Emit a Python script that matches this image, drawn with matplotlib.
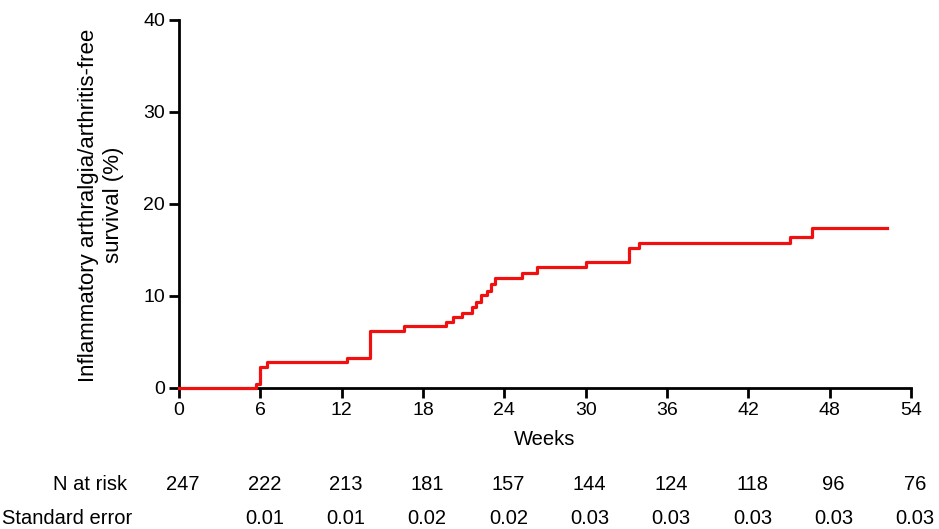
import matplotlib
matplotlib.use("Agg")
import matplotlib.pyplot as plt

plt.rcParams['font.family'] = ['Liberation Sans', 'DejaVu Sans']

# Kaplan-Meier style step curve (cumulative %), event times in weeks
weeks = [0, 5.7, 6.0, 6.5, 12.4, 14.1, 16.6, 19.7, 20.2, 20.9, 21.6, 21.9,
         22.3, 22.7, 23.0, 23.3, 25.3, 26.4, 30.0, 33.2, 33.9, 45.1, 46.7, 52.2]
pct = [0, 0.4, 2.3, 2.8, 3.3, 6.2, 6.7, 7.2, 7.7, 8.2, 8.8, 9.4,
       10.1, 10.5, 11.3, 12.0, 12.5, 13.2, 13.7, 15.2, 15.8, 16.4, 17.4, 17.4]

x_ticks = [0, 6, 12, 18, 24, 30, 36, 42, 48, 54]
y_ticks = [0, 10, 20, 30, 40]

n_at_risk = [247, 222, 213, 181, 157, 144, 124, 118, 96, 76]
std_err = ["", "0.01", "0.01", "0.02", "0.02", "0.03", "0.03", "0.03", "0.03", "0.03"]

FS = 14.5
W, H = 939, 529
fig = plt.figure(figsize=(W / 100, H / 100), dpi=100)
ax = fig.add_axes([179 / W, 1 - 388 / H, (911 - 179) / W, (388 - 20) / H])

ax.step(weeks, pct, where='post', color='#f01010', lw=2.3, clip_on=False, zorder=5)

ax.set_xlim(0, 54)
ax.set_ylim(0, 40)
ax.set_xticks(x_ticks)
ax.set_yticks(y_ticks)
for s in ('top', 'right'):
    ax.spines[s].set_visible(False)
for s in ('left', 'bottom'):
    ax.spines[s].set_linewidth(2.0)
ax.tick_params(axis='both', direction='out', length=7, width=2.0,
               labelsize=14, pad=3, colors='black')

ax.set_xlabel("Weeks", fontsize=FS, labelpad=8)
fig.text(101 / W, 1 - 205 / H,
         "Inflammatory arthralgia/arthritis-free\nsurvival (%)",
         rotation=90, ha='center', va='center', multialignment='center',
         fontsize=16, linespacing=1.2)

# Risk table below the axis
tr = ax.get_xaxis_transform()
y_n = (388 - 485) / (388 - 20)
y_se = (388 - 518) / (388 - 20)
for wk, n, se in zip(x_ticks, n_at_risk, std_err):
    ax.text(wk + 0.3, y_n, str(n), transform=tr, ha='center', va='center',
            fontsize=FS, clip_on=False)
    if se:
        ax.text(wk + 0.3, y_se, se, transform=tr, ha='center', va='center',
                fontsize=FS, clip_on=False)
fig.text(127 / W, 1 - 485 / H, "N at risk", ha='right', va='center', fontsize=FS)
fig.text(2 / W, 1 - 518 / H, "Standard error", ha='left', va='center', fontsize=FS)

fig.savefig("out.png", dpi=100)
